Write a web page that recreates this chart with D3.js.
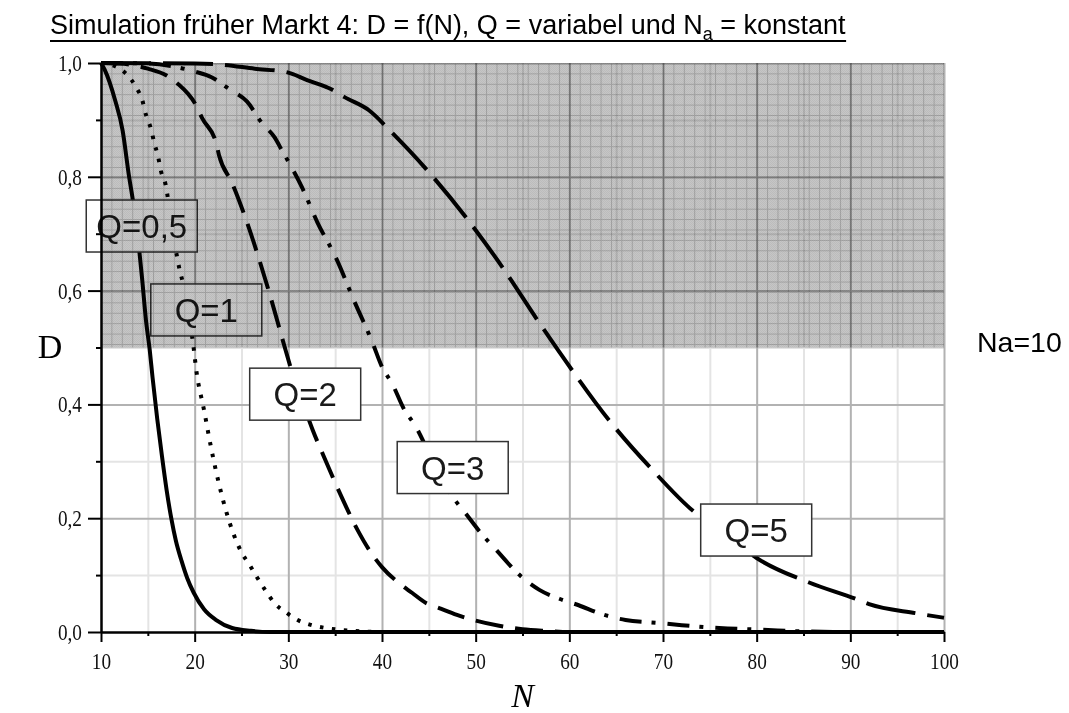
<!DOCTYPE html>
<html>
<head>
<meta charset="utf-8">
<script src="https://cdn.jsdelivr.net/npm/d3@7"></script>
<style>
    body { margin: 0; background: #fff; }
    svg { display: block; }
</style>
</head>
<body>
<svg id="chart" width="1069" height="713"></svg>
<script>
// Ticks
const nTicks = [10, 20, 30, 40, 50, 60, 70, 80, 90, 100];
const nMinorTicks = [15, 25, 35, 45, 55, 65, 75, 85, 95];
const dTicks = [0, 0.2, 0.4, 0.6, 0.8, 1.0];
const dMinorTicks = [0.1, 0.3, 0.5, 0.7, 0.9];

// Shaded band (D from 0.5 to 1.0)
const bandD = [0.5, 1.0];

// Curves: N values and D values
const q05N = [10, 10.4, 11.5, 12.3, 13, 13.4, 14.1, 14.4, 14.8, 15.2, 15.5, 16, 16.5, 17, 17.5, 18, 18.6, 19.2, 19.9, 21, 22.3, 24, 26, 28, 100];
const q05D = [1, 0.988, 0.935, 0.882, 0.8, 0.759, 0.668, 0.619, 0.548, 0.496, 0.448, 0.375, 0.31, 0.25, 0.2, 0.16, 0.125, 0.095, 0.069, 0.04, 0.021, 0.007, 0.002, 0, 0];

const q1N = [10, 11, 12, 12.8, 13.8, 14.4, 14.8, 15.3, 15.7, 16.1, 16.4, 16.9, 17.5, 18.1, 18.4, 18.8, 19.3, 19.8, 20.2, 21, 21.8, 22.6, 23.4, 24.2, 25, 25.9, 26.7, 27.6, 28.5, 29.7, 31, 32.5, 34, 35.4, 37, 40, 100];
const q1D = [1, 0.997, 0.99, 0.979, 0.956, 0.935, 0.909, 0.886, 0.859, 0.835, 0.81, 0.786, 0.72, 0.661, 0.636, 0.61, 0.56, 0.511, 0.457, 0.39, 0.32, 0.26, 0.21, 0.17, 0.14, 0.117, 0.095, 0.072, 0.051, 0.035, 0.021, 0.012, 0.007, 0.004, 0.002, 0, 0];

const q2N = [10, 12, 15, 17, 18.1, 20.2, 20.8, 22.3, 22.6, 24, 25.5, 26.9, 28.2, 29.4, 30.6, 31.6, 32.6, 33.8, 35.5, 37.4, 38.8, 40, 41.8, 43.2, 44.7, 46.1, 48, 50, 52.5, 55, 57.5, 60, 100];
const q2D = [1, 0.999, 0.99, 0.978, 0.965, 0.924, 0.903, 0.859, 0.838, 0.789, 0.724, 0.654, 0.583, 0.513, 0.446, 0.4, 0.355, 0.308, 0.244, 0.179, 0.14, 0.114, 0.086, 0.069, 0.051, 0.042, 0.03, 0.02, 0.011, 0.005, 0.002, 0, 0];

const q3N = [10, 15, 18, 20, 21.8, 23.7, 25.6, 27.2, 28.5, 29.3, 31.5, 33.1, 35.1, 37, 39, 40, 41.1, 42.4, 43.5, 45, 46.2, 47.4, 49, 50.5, 52.2, 54.7, 56.8, 59, 61, 63.2, 66, 69.4, 72, 76, 80.6, 85, 90, 100];
const q3D = [1, 0.999, 0.993, 0.985, 0.975, 0.954, 0.932, 0.894, 0.87, 0.847, 0.78, 0.72, 0.657, 0.583, 0.508, 0.466, 0.436, 0.39, 0.364, 0.315, 0.275, 0.241, 0.207, 0.175, 0.144, 0.1, 0.074, 0.058, 0.047, 0.033, 0.021, 0.016, 0.012, 0.007, 0.004, 0.001, 0, 0];

const q5N = [10, 20, 23, 26.4, 29.8, 32, 34.7, 36, 38.6, 41.1, 44.8, 49, 52.9, 56.6, 60.3, 64.2, 68.7, 73.5, 76.2, 80, 85.6, 90.6, 92, 97, 100];
const q5D = [1, 0.999, 0.997, 0.99, 0.984, 0.97, 0.953, 0.94, 0.917, 0.877, 0.812, 0.728, 0.64, 0.548, 0.46, 0.373, 0.288, 0.209, 0.179, 0.13, 0.087, 0.058, 0.049, 0.033, 0.025];

// Series labels and where their boxes sit (data coordinates of box centre)
const seriesLabels = ['Q=0,5', 'Q=1', 'Q=2', 'Q=3', 'Q=5'];
const labelN = [14.35, 21.24, 31.8, 47.55, 79.95];
const labelD = [0.7135, 0.566, 0.418, 0.289, 0.1792];

// Texts
const titleMain = 'Simulation früher Markt 4: D = f(N), Q = variabel und N';
const titleSub = 'a';
const titleEnd = ' = konstant';
const sideNote = 'Na=10';
const yLabel = 'D';
const xLabel = 'N';

const svg = d3.select('#chart');

// Scales
const x = d3.scaleLinear().domain([10, 100]).range([101, 944]);
const y = d3.scaleLinear().domain([0, 1]).range([632, 63]);
const plotW = x(100) - x(10);
const plotH = y(0) - y(1);

const fmt = d => d3.format('.1f')(d).replace('.', ',');

// Grid lines
function gridStyle(g, color) {
    g.select('.domain').remove();
    g.selectAll('.tick line').attr('stroke', color).attr('stroke-width', 2);
}

svg.append('g')
    .attr('transform', `translate(0, ${y(0)})`)
    .call(d3.axisBottom(x).tickValues(nMinorTicks).tickSize(-plotH).tickFormat(''))
    .call(g => gridStyle(g, '#e4e4e4'));
svg.append('g')
    .attr('transform', `translate(${x(10)}, 0)`)
    .call(d3.axisLeft(y).tickValues(dMinorTicks).tickSize(-plotW).tickFormat(''))
    .call(g => gridStyle(g, '#e4e4e4'));
svg.append('g')
    .attr('transform', `translate(0, ${y(0)})`)
    .call(d3.axisBottom(x).tickValues(nTicks.slice(1)).tickSize(-plotH).tickFormat(''))
    .call(g => gridStyle(g, '#b2b2b2'));
svg.append('g')
    .attr('transform', `translate(${x(10)}, 0)`)
    .call(d3.axisLeft(y).tickValues(dTicks.slice(1, -1)).tickSize(-plotW).tickFormat(''))
    .call(g => gridStyle(g, '#b2b2b2'));

// Curves
const series = [
    { n: q05N, d: q05D, dash: null },
    { n: q1N, d: q1D, dash: '3.5 8.5' },
    { n: q2N, d: q2D, dash: '28 12' },
    { n: q3N, d: q3D, dash: '22 10 4 12' },
    { n: q5N, d: q5D, dash: '50 12' },
];

const line = d3.line()
    .x(p => x(p[0]))
    .y(p => y(p[1]))
    .curve(d3.curveMonotoneX);

svg.append('g')
    .selectAll('path')
    .data(series)
    .join('path')
    .attr('d', s => line(s.n.map((n, i) => [n, s.d[i]])))
    .attr('fill', 'none')
    .attr('stroke', '#000')
    .attr('stroke-width', 4)
    .attr('stroke-dasharray', s => s.dash);

// Label boxes
const boxW = 111;
const boxH = 52;
const labels = svg.append('g')
    .selectAll('g')
    .data(seriesLabels)
    .join('g')
    .attr('transform', (t, i) => `translate(${x(labelN[i])}, ${y(labelD[i])})`);

labels.append('rect')
    .attr('x', -boxW / 2)
    .attr('y', -boxH / 2)
    .attr('width', boxW)
    .attr('height', boxH)
    .attr('fill', '#fff')
    .attr('stroke', '#333')
    .attr('stroke-width', 1.5);

labels.append('text')
    .attr('text-anchor', 'middle')
    .attr('y', 12)
    .attr('font-family', 'Liberation Sans, Arial, sans-serif')
    .attr('font-size', 33)
    .attr('fill', '#1a1a1a')
    .text(t => t);

// Shaded band with fine grid, multiplied over everything in the plot
const defs = svg.append('defs');
const cell = (x(20) - x(10)) / 9;
const pat = defs.append('pattern')
    .attr('id', 'hatch')
    .attr('patternUnits', 'userSpaceOnUse')
    .attr('x', x(10))
    .attr('y', y(1))
    .attr('width', cell)
    .attr('height', cell);
pat.append('rect').attr('width', cell).attr('height', cell).attr('fill', '#c6c6c6');
pat.append('path')
    .attr('d', `M0,0.5H${cell}M0.5,0V${cell}`)
    .attr('stroke', '#a3a3a3')
    .attr('stroke-width', 1);

const checker = defs.append('pattern')
    .attr('id', 'checker')
    .attr('patternUnits', 'userSpaceOnUse')
    .attr('width', 2)
    .attr('height', 2);
checker.append('rect').attr('width', 1).attr('height', 1).attr('fill', '#000').attr('opacity', 0.05);
checker.append('rect').attr('x', 1).attr('y', 1).attr('width', 1).attr('height', 1).attr('fill', '#000').attr('opacity', 0.05);

svg.append('rect')
    .attr('x', x(10))
    .attr('y', y(bandD[1]))
    .attr('width', plotW)
    .attr('height', y(bandD[0]) - y(bandD[1]))
    .attr('fill', 'url(#hatch)')
    .style('mix-blend-mode', 'multiply');
svg.append('rect')
    .attr('x', x(10))
    .attr('y', y(bandD[1]))
    .attr('width', plotW)
    .attr('height', y(bandD[0]) - y(bandD[1]))
    .attr('fill', 'url(#checker)');
svg.append('line')
    .attr('x1', x(10)).attr('x2', x(100))
    .attr('y1', y(bandD[1]) + 1).attr('y2', y(bandD[1]) + 1)
    .attr('stroke', '#d6d6d6')
    .attr('stroke-width', 2)
    .style('mix-blend-mode', 'multiply');

// Axes (narrow serif tick labels)
const squeeze = 0.82;
const tickFont = g => g.selectAll('text')
    .attr('font-family', 'Liberation Serif, Times New Roman, serif')
    .attr('font-size', 23.5)
    .attr('fill', '#111')
    .attr('x', function () { return +d3.select(this).attr('x') / squeeze; })
    .attr('transform', `scale(${squeeze},1)`);
const axisStyle = g => {
    g.select('.domain').attr('stroke', '#000').attr('stroke-width', 2);
    g.selectAll('.tick line').attr('stroke', '#000').attr('stroke-width', 2);
};

svg.append('g')
    .attr('transform', `translate(${x(10)}, 0)`)
    .call(d3.axisLeft(y).tickValues(dMinorTicks).tickSize(5).tickSizeOuter(0).tickFormat(''))
    .call(axisStyle);
svg.append('g')
    .attr('transform', `translate(${x(10)}, 0)`)
    .call(d3.axisLeft(y).tickValues(dTicks).tickSize(13).tickPadding(6).tickSizeOuter(0).tickFormat(fmt))
    .call(axisStyle)
    .call(tickFont);
svg.append('g')
    .attr('transform', `translate(0, ${y(0)})`)
    .call(d3.axisBottom(x).tickValues(nMinorTicks).tickSize(4).tickSizeOuter(0).tickFormat(''))
    .call(axisStyle);
svg.append('g')
    .attr('transform', `translate(0, ${y(0)})`)
    .call(d3.axisBottom(x).tickValues(nTicks).tickSize(10).tickPadding(10).tickSizeOuter(0).tickFormat(d3.format('d')))
    .call(axisStyle)
    .call(tickFont);

// Axis titles
svg.append('text')
    .attr('x', 50)
    .attr('y', 358)
    .attr('text-anchor', 'middle')
    .attr('font-family', 'Liberation Serif, Times New Roman, serif')
    .attr('font-size', 34)
    .text(yLabel);
svg.append('text')
    .attr('x', (x(10) + x(100)) / 2)
    .attr('y', 707)
    .attr('text-anchor', 'middle')
    .attr('font-family', 'Liberation Serif, Times New Roman, serif')
    .attr('font-style', 'italic')
    .attr('font-size', 34)
    .text(xLabel);

// Title
const title = svg.append('text')
    .attr('x', 50)
    .attr('y', 34)
    .attr('font-family', 'Liberation Sans, Arial, sans-serif')
    .attr('font-size', 27)
    .attr('fill', '#000');
title.append('tspan').text(titleMain);
title.append('tspan').attr('font-size', 18).attr('dy', 6).text(titleSub);
title.append('tspan').attr('dy', -6).text(titleEnd);
const tb = title.node().getBBox();
svg.append('line')
    .attr('x1', tb.x).attr('x2', tb.x + tb.width)
    .attr('y1', 41).attr('y2', 41)
    .attr('stroke', '#000')
    .attr('stroke-width', 2);

// Side note
svg.append('text')
    .attr('x', 977)
    .attr('y', 352)
    .attr('font-family', 'Liberation Sans, Arial, sans-serif')
    .attr('font-size', 28.5)
    .attr('fill', '#000')
    .text(sideNote);
</script>
</body>
</html>
